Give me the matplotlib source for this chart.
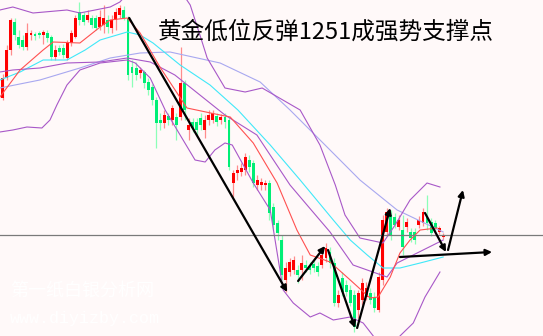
import matplotlib
matplotlib.use("Agg")
import matplotlib.pyplot as plt
import numpy as np

plt.rcParams['font.family'] = ['Noto Sans CJK SC', 'DejaVu Sans']

# ---- candle data (arbitrary price units) ----
opens = [238,258,286,314,299,296,289,301,302,303,301,303,299,279,288,288,278,293,299,324,
         321,316,318,318,309,311,316,308,316,321,326,318,269,268,263,264,254,249,236,216,
         213,220,216,219,219,253,206,214,214,218,206,216,216,220,216,219,216,153,163,164,
         166,176,173,151,151,151,153,129,113,96,56,64,66,66,66,71,70,72,70,71,
         78,84,73,33,58,51,46,41,26,36,39,43,39,26,56,104,121,119,109,106,
         109,104,104,111,113,119,114,113,104,99]
highs = [262,291,318,318,306,301,313,306,304,305,306,306,301,291,291,292,296,306,321,334,
         324,326,321,321,326,331,321,321,328,331,330,320,276,274,269,266,258,252,239,223,
         226,223,231,223,289,256,218,218,218,223,221,226,226,223,222,223,219,166,171,173,
         183,181,176,161,158,156,156,133,116,101,74,78,80,71,81,76,74,76,74,84,
         93,89,78,46,64,56,51,46,46,58,54,48,44,64,121,128,126,123,121,121,
         118,108,108,120,128,141,118,116,110,103]
lows = [236,256,281,296,288,286,286,296,296,298,292,294,276,276,281,278,276,290,298,311,
        311,314,308,306,306,303,303,303,306,318,316,256,249,256,258,248,241,231,188,206,
        208,211,211,196,216,216,196,204,201,206,198,211,213,210,212,208,166,139,156,160,
        161,164,149,146,146,146,116,106,96,56,44,60,62,53,56,64,62,64,60,68,
        74,68,30,29,40,40,30,4,18,31,36,32,24,24,51,100,96,108,106,81,
        104,94,92,108,110,106,100,104,102,97]
closes = [258,286,316,301,291,289,303,303,300,301,304,298,279,286,284,281,293,303,318,316,
          314,321,311,308,319,318,309,316,324,328,318,261,263,261,266,253,246,236,213,213,
          221,216,228,211,253,226,211,208,206,211,216,221,223,214,219,214,169,163,166,168,
          179,169,153,156,154,153,123,111,103,61,68,74,76,61,73,68,66,68,64,81,
          88,73,33,41,44,44,33,9,43,53,48,36,28,59,116,124,101,111,116,89,
          114,98,96,116,124,113,103,108,108,101]

# ---- indicator lines: (bar index, value) ----
ma_fast = [(-0.7,239),(4.3,266),(10.0,286),(12.5,294),(19.1,293),(24.1,309),(26.6,316),(30.8,318),
           (34.0,303),(38.9,269),(45.6,228),(53.8,221),(56.3,219),(62.0,193),(67.9,153),(72.8,106),
           (76.1,81),(81.0,74),(86.0,56),(90.9,38),(92.9,39),(95.9,59),(98.3,83),(100.8,96),
           (103.3,106),(107.5,108)]
ma_mid = [(-0.7,256),(4.3,264),(10.0,276),(15.9,276),(20.4,286),(24.1,296),(30.8,304),(34.0,301),
          (37.2,293),(43.9,271),(51.3,251),(58.2,226),(66.2,191),(73.6,156),(81.8,116),(86.0,96),
          (90.2,81),(94.1,68),(98.3,68),(103.3,73),(109.0,79)]
ma_slow = [(-0.7,248),(9.2,256),(19.1,268),(26.6,278),(34.0,283),(41.4,284),(53.8,273),(63.7,254),
           (71.1,226),(81.0,186),(88.4,156),(97.6,126),(109.0,104)]
bb_upper = [(-0.7,326),(2.5,329),(7.5,323),(15.9,326),(19.1,323),(26.6,329),(29.0,334),(32.8,351),
            (38.9,361),(43.9,346),(46.4,331),(48.8,301),(50.6,278),(55.0,248),(60.0,244),(64.2,248),
            (73.6,226),(78.5,191),(82.3,151),(84.7,121),(88.4,98),(94.1,93),(97.1,111),(100.8,136),
            (105.0,153),(108.2,149)]
bb_middle = [(-0.7,264),(2.5,266),(9.2,268),(15.9,273),(24.1,274),(30.8,278),(36.5,274),(42.6,261),
             (48.8,241),(55.0,221),(62.9,201),(71.1,151),(75.3,131),(81.0,104),(86.7,71),(95.1,59),
             (97.6,73),(109.0,96)]
bb_lower = [(-0.7,204),(2.5,206),(6.0,209),(9.7,208),(11.7,216),(13.4,231),(15.9,251),(19.1,266),
            (24.1,273),(30.8,276),(32.8,273),(36.5,258),(40.2,226),(43.9,201),(47.6,176),(50.1,174),
            (52.5,186),(55.0,193),(56.8,191),(62.0,153),(66.2,126),(69.4,46),(71.9,33),(76.1,19),
            (78.5,23),(81.8,16),(86.0,19),(89.2,13),(91.7,0),(93.4,-9),(97.1,-9),(98.3,0),
            (101.6,13),(104.5,39),(108.2,64)]
support_level = 101

# ---- trend arrows: (start bar, start value, end bar, end value) ----
arrows = [(31.3,318,70.4,44),(73.1,55,79.8,90),(80.5,86,87.2,8),(87.7,8,95.9,128),
          (104.5,123,109.7,84),(110.2,86,113.9,146),(98.3,79,121.1,84)]

title = "黄金低位反弹1251成强势支撑点"
wm1 = "第一纸白银分析网"
wm2 = "www.diyizby.com"

BG = '#FFF9F9'
fig = plt.figure(figsize=(5.43, 3.36), dpi=100, facecolor=BG)
ax = fig.add_axes([0, 0, 1, 1])
ax.set_facecolor(BG)
ax.set_xlim(-0.67, 133.7)
ax.set_ylim(0, 336)
ax.axis('off')

x = np.arange(len(opens))
o = np.array(opens); c = np.array(closes); h = np.array(highs); l = np.array(lows)
up = c >= o
wick_col = np.where(up, '#FF8C8C', '#8CFFB8')
ax.vlines(x, l, h, colors=wick_col, lw=0.9, zorder=2)
body_col = np.where(up, '#FF0000', '#00EE76')
bottoms = np.minimum(o, c)
heights = np.maximum(np.abs(c - o), 1.2)
ax.bar(x, heights, bottom=bottoms, width=0.72, color=body_col, linewidth=0, zorder=3)

def draw(pts, color, lw=0.8, z=4):
    px, py = zip(*pts)
    ax.plot(px, py, color=color, lw=lw, zorder=z, solid_joinstyle='round')

draw(ma_slow, '#A8A8F0')
draw(ma_mid, '#40E8F8')
draw(bb_upper, '#A858C8')
draw(bb_middle, '#A858C8')
draw(bb_lower, '#A858C8')
draw(ma_fast, '#FF5050')

ax.axhline(support_level, color='#7A7A7A', lw=0.9, zorder=5)

for x0, y0, x1, y1 in arrows:
    ax.annotate('', xy=(x1, y1), xytext=(x0, y0),
                arrowprops=dict(arrowstyle='-|>', color='black', lw=1.6,
                                mutation_scale=9, shrinkA=0, shrinkB=0),
                zorder=6)

fig.text(158/543, 1 - 32/336, title, fontsize=17, color='black', va='center', ha='left',
         fontweight='light')
fig.text(10/543, 1 - 292/336, wm1, fontsize=13, color='white', va='center', ha='left',
         fontweight='light')
fig.text(10/543, 1 - 318/336, wm2, fontsize=12, color='white', va='center', ha='left',
         family=['Liberation Mono', 'DejaVu Sans Mono'])

fig.savefig('out.png', dpi=100, facecolor=BG)
